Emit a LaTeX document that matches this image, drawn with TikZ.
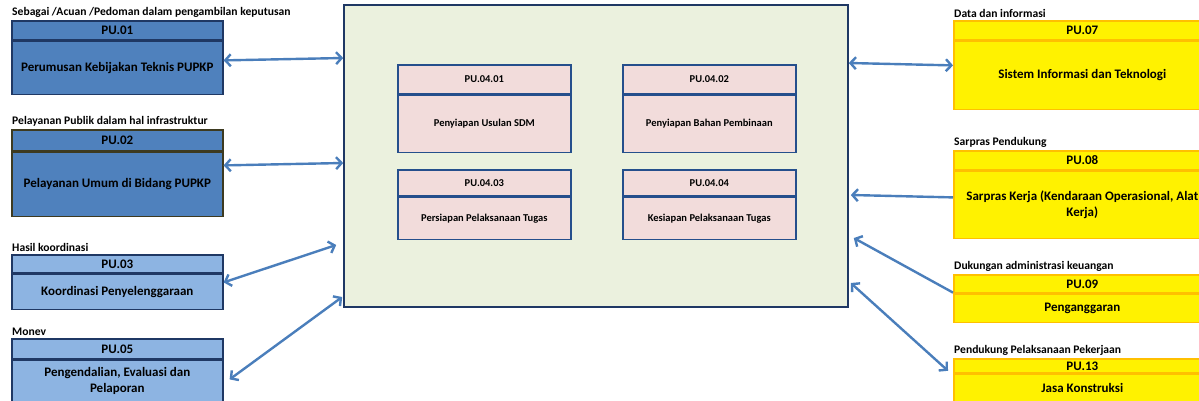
\documentclass[tikz,border=0pt]{standalone}
\usepackage{fontspec}
\setmainfont{Carlito}
\usetikzlibrary{positioning,calc,arrows.meta}

\definecolor{darkblue}{HTML}{4F81BD}
\definecolor{lightblue}{HTML}{8DB4E2}
\definecolor{navy}{HTML}{1F3864}
\definecolor{olive}{HTML}{3D3A20}
\definecolor{paleolive}{HTML}{EBF1DE}
\definecolor{palepink}{HTML}{F2DCDB}
\definecolor{innerline}{HTML}{254F8C}
\definecolor{gold}{HTML}{FFC000}
\definecolor{arrowblue}{HTML}{4A7EBB}

\begin{document}
\begin{tikzpicture}[x=1pt,y=-1pt,
	box/.style={draw, rectangle, line width=1.6pt, inner sep=1pt, align=center, font=\fontsize{13}{16}\bfseries},
	leftbox/.style={box, draw=navy, minimum width=211pt},
	rightbox/.style={box, fill=yellow, draw=gold, minimum width=257pt},
	subbox/.style={box, fill=palepink, draw=innerline, minimum width=173pt, font=\fontsize{10.5}{12}\bfseries},
	caption/.style={anchor=south west, inner sep=1pt, font=\fontsize{11.6}{12}\bfseries},
	link/.style={draw=arrowblue, line width=2.4pt, {Straight Barb[length=5.5pt,width=12pt]}-{Straight Barb[length=5.5pt,width=12pt]}},
	onelink/.style={draw=arrowblue, line width=2.4pt, -{Straight Barb[length=5.5pt,width=12pt]}}]

\useasboundingbox (0,0) rectangle (1199,401);

% left side
\node[caption] (c01) at (11,19) {Sebagai /Acuan /Pedoman dalam pengambilan keputusan};
\node[leftbox, fill=darkblue, minimum height=19pt, anchor=north west] (pu01h) at (11,20) {PU.01};
\node[leftbox, fill=darkblue, minimum height=53pt, below=0pt of pu01h] (pu01b) {Perumusan Kebijakan Teknis PUPKP};

\node[caption] (c02) at (11,128) {Pelayanan Publik dalam hal infrastruktur};
\node[leftbox, fill=darkblue, draw=olive, minimum height=21pt, anchor=north west] (pu02h) at (11,129) {PU.02};
\node[leftbox, fill=darkblue, draw=olive, minimum height=64pt, below=0pt of pu02h] (pu02b) {Pelayanan Umum di Bidang PUPKP};

\node[caption] (c03) at (11,253) {Hasil koordinasi};
\node[leftbox, fill=lightblue, minimum height=18pt, anchor=north west] (pu03h) at (11,254) {PU.03};
\node[leftbox, fill=lightblue, minimum height=35pt, below=0pt of pu03h] (pu03b) {Koordinasi Penyelenggaraan};

\node[caption] (c05) at (11,337) {Monev};
\node[leftbox, fill=lightblue, minimum height=20pt, anchor=north west] (pu05h) at (11,338) {PU.05};
\node[leftbox, fill=lightblue, minimum height=42pt, below=0pt of pu05h] (pu05b) {Pengendalian, Evaluasi dan\\Pelaporan};

% middle
\node[box, fill=paleolive, draw=navy, minimum width=504pt, minimum height=302pt] (main) at (596,156) {};

\node[subbox, minimum height=29pt, anchor=north west] (pu0401h) at (397,64) {PU.04.01};
\node[subbox, minimum height=57pt, below=0pt of pu0401h] (pu0401b) {Penyiapan Usulan SDM};
\node[subbox, minimum height=29pt, anchor=north west] (pu0402h) at (622,64) {PU.04.02};
\node[subbox, minimum height=57pt, below=0pt of pu0402h] (pu0402b) {Penyiapan Bahan Pembinaan};
\node[subbox, minimum height=26pt, anchor=north west] (pu0403h) at (397,169) {PU.04.03};
\node[subbox, minimum height=42pt, below=0pt of pu0403h] (pu0403b) {Persiapan Pelaksanaan Tugas};
\node[subbox, minimum height=26pt, anchor=north west] (pu0404h) at (622,169) {PU.04.04};
\node[subbox, minimum height=42pt, below=0pt of pu0404h] (pu0404b) {Kesiapan Pelaksanaan Tugas};

% right side
\node[caption] (c07) at (953,19) {Data dan informasi};
\node[rightbox, minimum height=19pt, anchor=north west] (pu07h) at (953,20) {PU.07};
\node[rightbox, minimum height=68pt, below=0pt of pu07h] (pu07b) {Sistem Informasi dan Teknologi};

\node[caption] (c08) at (953,149) {Sarpras Pendukung};
\node[rightbox, minimum height=19pt, anchor=north west] (pu08h) at (953,150) {PU.08};
\node[rightbox, minimum height=67pt, below=0pt of pu08h] (pu08b) {Sarpras Kerja (Kendaraan Operasional, Alat\\Kerja)};

\node[caption] (c09) at (953,273) {Dukungan administrasi keuangan};
\node[rightbox, minimum height=18pt, anchor=north west] (pu09h) at (953,274) {PU.09};
\node[rightbox, minimum height=28pt, below=0pt of pu09h] (pu09b) {Penganggaran};

\node[caption] (c13) at (953,357) {Pendukung Pelaksanaan Pekerjaan};
\node[rightbox, minimum height=14pt, anchor=north west] (pu13h) at (953,358) {PU.13};
\node[rightbox, minimum height=28pt, below=0pt of pu13h] (pu13b) {Jasa Konstruksi};

% connectors
\draw[link] ($(pu01b.east)+(0,-7.5)$) -- ($(main.west)+(0,-98)$);
\draw[link] ($(pu02b.east)+(0,-19)$) -- ($(main.west)+(0,7)$);
\draw[link] ($(pu03b.east)+(0,-9.5)$) -- ($(main.west)+(-7,89)$);
\draw[link] ($(pu05b.east)+(6,-2)$) -- ($(main.west)+(-1,141)$);
\draw[link] ($(pu07b.west)+(0,-10)$) -- ($(main.east)+(0,-93)$);
\draw[onelink] ($(pu08b.west)+(0,-7.5)$) -- ($(main.east)+(2,39)$);
\draw[onelink] ($(pu09h.south west)+(0,-1)$) -- ($(main.east)+(5,82)$);
\draw[link] ($(main.east)+(2,127)$) -- ($(pu13h.west)+(-5,5)$);

\end{tikzpicture}
\end{document}
